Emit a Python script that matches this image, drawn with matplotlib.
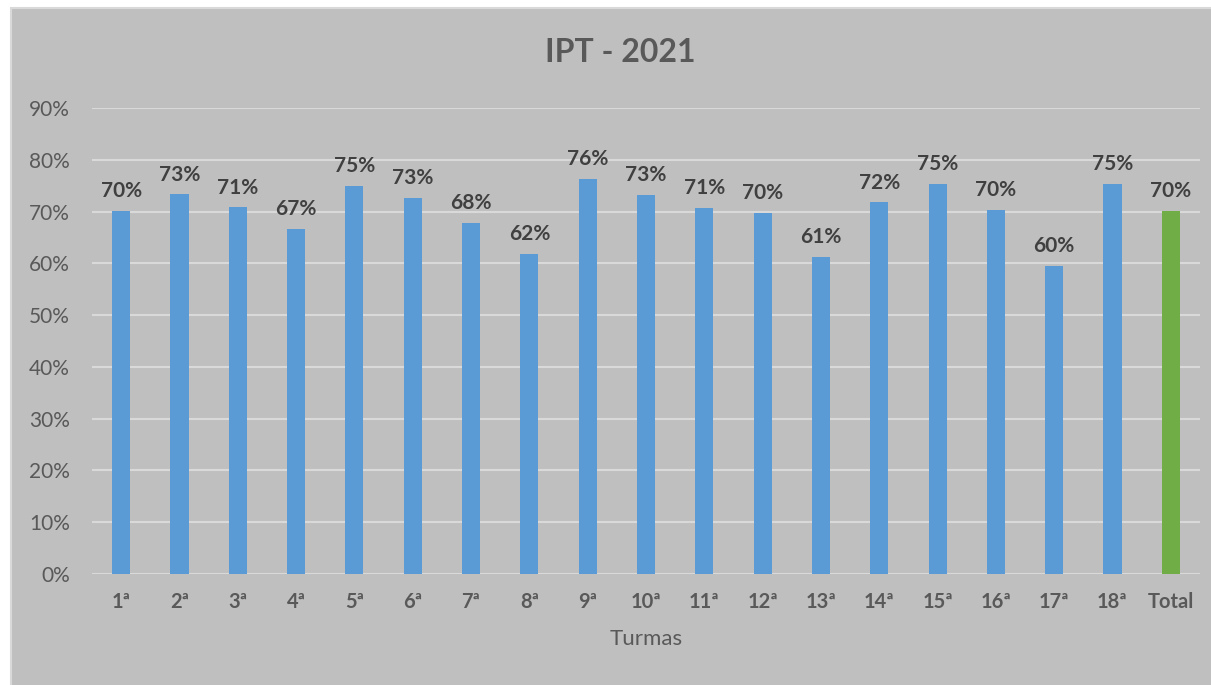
import numpy as np
import matplotlib.pyplot as plt
from matplotlib.patches import Rectangle

plt.rcParams['font.family'] = ['Lato', 'DejaVu Sans']

turmas = ['1ª', '2ª', '3ª', '4ª', '5ª', '6ª', '7ª', '8ª', '9ª', '10ª',
          '11ª', '12ª', '13ª', '14ª', '15ª', '16ª', '17ª', '18ª', 'Total']
valores = [0.701, 0.733, 0.708, 0.666, 0.749, 0.726, 0.678, 0.618, 0.763, 0.732,
           0.707, 0.697, 0.612, 0.718, 0.754, 0.703, 0.595, 0.754, 0.701]
cores = ['#5B9BD5'] * 18 + ['#70AD47']

bg = '#BFBFBF'
fig = plt.figure(figsize=(12.11, 6.85), dpi=100)
fig.patch.set_facecolor('white')
fig.patches.append(Rectangle((11 / 1211, -0.01), 1.01, (685 - 8) / 685 + 0.01,
                             transform=fig.transFigure, facecolor=bg,
                             edgecolor='#D9D9D9', linewidth=1.5, zorder=-1))

ax = fig.add_axes([92 / 1211, (685 - 574) / 685, (1200 - 92) / 1211, (574 - 108) / 685])
ax.set_zorder(1)
ax.set_facecolor(bg)
x = np.arange(len(turmas))
bars = ax.bar(x, valores, width=0.31, color=cores, zorder=3)

for xi, v in zip(x, valores):
    ax.annotate(f'{round(v * 100):.0f}%', (xi, v), xytext=(0, 7), textcoords='offset points',
                ha='center', va='bottom', fontsize=15, fontweight='bold', color='#404040')

ax.set_xlim(-0.5, len(turmas) - 0.5)
ax.set_ylim(0, 0.9)
ax.set_yticks(np.arange(0, 0.91, 0.1))
ax.set_yticklabels([f'{t}%' for t in range(0, 91, 10)], fontsize=15, color='#595959')
ax.set_xticks(x)
ax.set_xticklabels(turmas, fontsize=14.5, fontweight='bold', color='#595959')
ax.tick_params(axis='both', length=0)
ax.tick_params(axis='x', pad=13)
ax.tick_params(axis='y', pad=16)
ax.grid(axis='y', color='#D9D9D9', linewidth=1.5, zorder=0)
for s in ax.spines.values():
    s.set_visible(False)

ax.set_xlabel('Turmas', fontsize=16, color='#595959', labelpad=12)
fig.text(0.512, 1 - 53 / 685, 'IPT - 2021', ha='center', va='center',
         fontsize=23, fontweight='bold', color='#595959')

fig.savefig('out.png', dpi=100, facecolor=fig.get_facecolor())
